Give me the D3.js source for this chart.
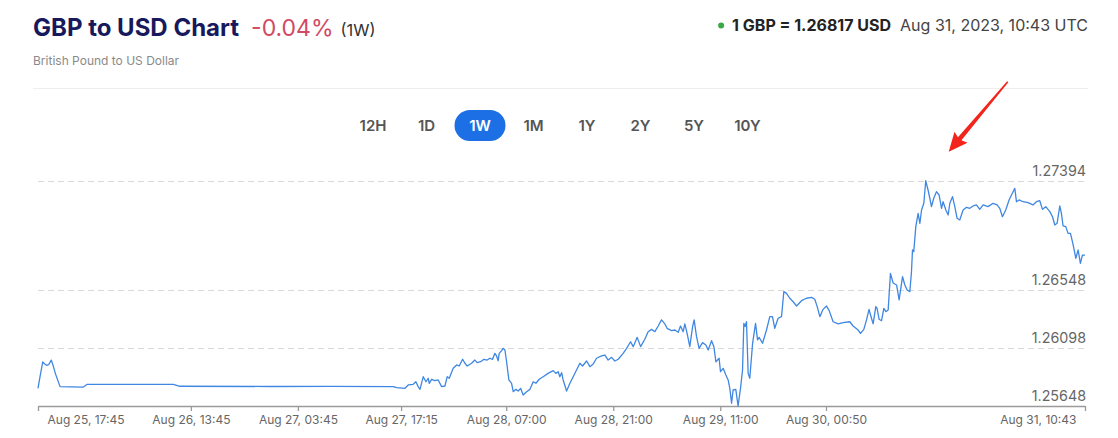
<!DOCTYPE html>
<html>
<head>
<meta charset="utf-8">
<script src="https://cdn.jsdelivr.net/npm/d3@7"></script>
<style>
  html, body { margin: 0; padding: 0; background: #fff; }
  svg { display: block; font-family: Inter, "Noto Sans", sans-serif; }
</style>
</head>
<body>
<svg id="chart" width="1118" height="438"></svg>
<script>
// ---------- data ----------
const titleText = "GBP to USD Chart";
const changeText = "-0.04%";
const periodText = "(1W)";
const subtitleText = "British Pound to US Dollar";
const quoteText = "1 GBP = 1.26817 USD";
const quoteTimeText = "Aug 31, 2023, 10:43 UTC";
const rangeButtons = ["12H", "1D", "1W", "1M", "1Y", "2Y", "5Y", "10Y"];
const activeButton = "1W";

const yTicks = [1.25648, 1.26098, 1.26548, 1.27394];
const xTickLabels = ["Aug 25, 17:45", "Aug 26, 13:45", "Aug 27, 03:45", "Aug 27, 17:15",
  "Aug 28, 07:00", "Aug 28, 21:00", "Aug 29, 11:00", "Aug 30, 00:50", "Aug 31, 10:43"];

const times = [
  "08-25 17:45","08-25 18:01","08-25 18:22","08-25 18:38","08-25 18:53","08-25 19:09","08-25 19:29","08-25 19:40","08-25 20:01","08-25 20:38","08-25 23:41",
  "08-26 00:12","08-26 11:27","08-26 12:19",
  "08-27 00:05","08-27 07:56","08-27 16:13","08-27 16:40","08-27 17:45","08-27 18:11","08-27 18:50","08-27 19:11","08-27 19:29","08-27 19:43","08-27 20:09","08-27 20:30","08-27 20:48","08-27 20:56","08-27 21:15","08-27 21:40","08-27 22:06","08-27 22:33","08-27 22:59","08-27 23:17","08-27 23:33",
  "08-28 00:04","08-28 00:31","08-28 00:51","08-28 01:18","08-28 01:36","08-28 01:54","08-28 02:28","08-28 02:54","08-28 03:12","08-28 03:39","08-28 04:05","08-28 04:31","08-28 04:52","08-28 05:13","08-28 05:31","08-28 05:44","08-28 05:57","08-28 06:05","08-28 06:24","08-28 06:36","08-28 06:50","08-28 07:03","08-28 07:21","08-28 07:42","08-28 07:55","08-28 08:16","08-28 08:34","08-28 08:53","08-28 09:13","08-28 09:40","08-28 10:06","08-28 10:32","08-28 10:53","08-28 11:19","08-28 11:50","08-28 12:29","08-28 13:09","08-28 13:30","08-28 13:48","08-28 14:01","08-28 14:15","08-28 14:27","08-28 14:54","08-28 15:20","08-28 15:46","08-28 16:12","08-28 16:38","08-28 16:59","08-28 17:31","08-28 17:57","08-28 18:23","08-28 18:49","08-28 19:29","08-28 19:55","08-28 20:20","08-28 20:47","08-28 21:13","08-28 21:39","08-28 22:18","08-28 22:45","08-28 23:16","08-28 23:37",
  "08-29 00:08","08-29 00:35","08-29 01:08","08-29 01:34","08-29 02:01","08-29 02:27","08-29 02:53","08-29 03:19","08-29 03:45","08-29 04:03","08-29 04:38","08-29 05:04","08-29 05:30","08-29 05:48","08-29 06:09","08-29 06:22","08-29 06:40","08-29 07:01","08-29 07:23","08-29 07:35","08-29 07:54","08-29 08:14","08-29 08:41","08-29 09:07","08-29 09:25","08-29 09:52","08-29 10:10","08-29 10:26","08-29 10:51","08-29 11:02","08-29 11:23","08-29 11:44","08-29 12:02","08-29 12:15","08-29 12:29","08-29 12:41","08-29 13:02","08-29 13:20","08-29 13:39","08-29 13:55","08-29 14:05","08-29 14:15","08-29 14:26","08-29 14:39","08-29 14:52","08-29 15:14","08-29 15:37","08-29 15:53","08-29 16:05","08-29 16:32","08-29 17:03","08-29 17:29","08-29 17:50","08-29 18:08","08-29 18:34","08-29 19:01","08-29 19:19","08-29 19:40","08-29 20:06","08-29 20:32","08-29 20:59","08-29 21:38","08-29 22:17","08-29 22:57","08-29 23:22","08-29 23:41",
  "08-30 00:02","08-30 00:27","08-30 00:54","08-30 01:15","08-30 01:46","08-30 02:25","08-30 03:04","08-30 03:57","08-30 04:23","08-30 05:02","08-30 05:21","08-30 05:47","08-30 06:08","08-30 06:28","08-30 06:47","08-30 07:00","08-30 07:21","08-30 07:31","08-30 07:47","08-30 08:06","08-30 08:24","08-30 08:40","08-30 08:58","08-30 09:16","08-30 09:37","08-30 10:04","08-30 10:24","08-30 10:51","08-30 11:09","08-30 11:27","08-30 11:48","08-30 12:01","08-30 12:09","08-30 12:19","08-30 12:35","08-30 12:53","08-30 13:07","08-30 13:20","08-30 13:38","08-30 13:53","08-30 14:11","08-30 14:25","08-30 14:38","08-30 14:56","08-30 15:17","08-30 15:38","08-30 15:57","08-30 16:09","08-30 16:31","08-30 16:49","08-30 17:02","08-30 17:23","08-30 17:41","08-30 17:59","08-30 18:20","08-30 18:46","08-30 19:13","08-30 19:39","08-30 20:05","08-30 20:31","08-30 20:57","08-30 21:23","08-30 22:02","08-30 22:41","08-30 23:13","08-30 23:34","08-30 23:55",
  "08-31 00:21","08-31 00:47","08-31 01:06","08-31 01:32","08-31 01:45","08-31 02:06","08-31 02:37","08-31 03:16","08-31 03:55","08-31 04:22","08-31 04:48","08-31 05:09","08-31 05:35","08-31 06:07","08-31 06:28","08-31 06:46","08-31 07:04","08-31 07:25","08-31 07:38","08-31 07:51","08-31 08:12","08-31 08:30","08-31 08:49","08-31 09:10","08-31 09:31","08-31 09:49","08-31 10:07","08-31 10:23","08-31 10:43"
];

const rates = [
  1.25785,1.25875,1.25989,1.25974,1.25963,1.25968,1.26004,1.25974,1.25901,1.25798,1.25795,
  1.25816,1.25816,1.25801,
  1.25799,1.25800,1.25798,1.25790,1.25785,1.25811,1.25816,1.25836,1.25798,1.25777,1.25875,1.25836,1.25863,1.25824,1.25855,1.25844,1.25850,1.25798,1.25803,1.25875,1.25863,
  1.25940,1.25966,1.25958,1.26010,1.25979,1.25958,1.25979,1.26004,1.25984,1.25991,1.26010,1.26004,1.26018,1.26010,1.26056,1.26036,1.25999,1.26056,1.26077,1.26095,1.26082,1.25991,1.25850,1.25824,1.25759,1.25777,1.25764,1.25785,1.25733,1.25759,1.25777,1.25836,1.25824,1.25855,1.25875,1.25901,1.25922,1.25901,1.25914,1.25875,1.25906,1.25850,1.25764,1.25824,1.25875,1.25927,1.25979,1.25958,1.25997,1.25953,1.25974,1.26018,1.26036,1.26043,1.26004,1.26025,1.25997,1.26010,1.26056,1.26095,1.26146,1.26108,
  1.26180,1.26108,1.26165,1.26224,1.26242,1.26224,1.26268,1.26315,1.26284,1.26250,1.26232,1.26237,1.26219,1.26268,1.26224,1.26284,1.26211,1.26108,1.26263,1.26315,1.26185,1.26095,1.26139,1.26121,1.26082,1.26154,1.26108,1.25991,1.26018,1.25914,1.25940,1.25888,1.25850,1.25785,1.25669,1.25772,1.25777,1.25648,1.25785,1.25927,1.26289,1.26263,1.26301,1.25901,1.25863,1.26134,1.26289,1.26160,1.26180,1.26134,1.26237,1.26340,1.26340,1.26250,1.26328,1.26340,1.26534,1.26521,1.26483,1.26456,1.26423,1.26464,1.26483,1.26490,1.26475,1.26418,
  1.26340,1.26397,1.26423,1.26387,1.26301,1.26284,1.26294,1.26301,1.26268,1.26237,1.26211,1.26242,1.26315,1.26397,1.26328,1.26284,1.26418,1.26405,1.26320,1.26309,1.26405,1.26379,1.26392,1.26676,1.26601,1.26586,1.26470,1.26650,1.26586,1.26547,1.26534,1.26687,1.26857,1.26844,1.27038,1.27141,1.27064,1.27167,1.27219,1.27394,1.27322,1.27258,1.27193,1.27258,1.27309,1.27283,1.27180,1.27231,1.27167,1.27128,1.27219,1.27270,1.27193,1.27103,1.27090,1.27167,1.27188,1.27180,1.27198,1.27206,1.27172,1.27206,1.27193,1.27219,1.27206,1.27180,1.27115,
  1.27167,1.27245,1.27283,1.27335,1.27231,1.27245,1.27231,1.27224,1.27206,1.27231,1.27239,1.27172,1.27193,1.27154,1.27115,1.27051,1.27064,1.27198,1.27141,1.27043,1.27038,1.26986,1.26986,1.26896,1.26793,1.26857,1.26754,1.26818,1.26817
];

// ---------- drawing ----------
const svg = d3.select("#chart");
svg.append("rect").attr("width", 1118).attr("height", 438).attr("fill", "#fff");

const parseT = d3.utcParse("%Y-%m-%d %H:%M");
const parseLabel = d3.utcParse("%Y %b %d, %H:%M");
const data = times.map((t, i) => ({ t: parseT("2023-" + t), v: rates[i] }));
const tickDates = xTickLabels.map(s => parseLabel("2023 " + s));

const x = d3.scaleUtc()
  .domain([tickDates[0], tickDates[tickDates.length - 1]])
  .range([38, 1085]);
const y = d3.scaleLinear()
  .domain([d3.min(yTicks), d3.max(yTicks)])
  .range([406, 180.7]);

// header
const title = svg.append("text").attr("x", 33).attr("y", 36)
  .attr("font-size", 24).attr("font-weight", 700).attr("fill", "#17195c").text(titleText);
const tW = title.node().getComputedTextLength();
const chg = svg.append("text").attr("x", 33 + tW + 12).attr("y", 36)
  .attr("font-size", 23).attr("font-weight", 400).attr("fill", "#d14a63").text(changeText);
const cW = chg.node().getComputedTextLength();
svg.append("text").attr("x", 33 + tW + 12 + cW + 7).attr("y", 36)
  .attr("font-size", 16.5).attr("fill", "#333").text(periodText);
svg.append("text").attr("x", 33).attr("y", 65)
  .attr("font-size", 12).attr("fill", "#8a8a8a").text(subtitleText);

const qt = svg.append("text").attr("x", 1088).attr("y", 31).attr("text-anchor", "end")
  .attr("font-size", 16).attr("fill", "#444").text(quoteTimeText);
const qtW = qt.node().getComputedTextLength();
const q = svg.append("text").attr("x", 1088 - qtW - 9).attr("y", 31).attr("text-anchor", "end")
  .attr("font-size", 16).attr("font-weight", 700).attr("fill", "#222").text(quoteText);
const qW = q.node().getComputedTextLength();
svg.append("circle").attr("cx", 1088 - qtW - 9 - qW - 11).attr("cy", 25.5).attr("r", 3)
  .attr("fill", "#3aa845");

// separator
svg.append("line").attr("x1", 33).attr("x2", 1088).attr("y1", 88.5).attr("y2", 88.5)
  .attr("stroke", "#eeeeee").attr("stroke-width", 1);

// range buttons
const bx = d3.scalePoint().domain(rangeButtons).range([373, 747.5]);
const btn = svg.append("g").selectAll("g").data(rangeButtons).join("g")
  .attr("transform", d => `translate(${bx(d)},125.5)`);
btn.filter(d => d === activeButton).append("rect")
  .attr("x", -25.5).attr("y", -15.5).attr("width", 51).attr("height", 31).attr("rx", 15.5)
  .attr("fill", "#1d6fe5");
btn.append("text").attr("text-anchor", "middle").attr("dy", "0.36em")
  .attr("font-size", 15).attr("font-weight", 600)
  .attr("fill", d => d === activeButton ? "#fff" : "#555").text(d => d);

// gridlines + y labels
const fmt = d3.format(".5f");
const grid = svg.append("g");
grid.selectAll("line").data(yTicks.slice(1)).join("line")
  .attr("x1", 38).attr("x2", 1086)
  .attr("y1", d => Math.round(y(d)) + 0.5).attr("y2", d => Math.round(y(d)) + 0.5)
  .attr("stroke", "#d9d9d9").attr("stroke-dasharray", "6,4");
grid.selectAll("text").data(yTicks).join("text")
  .attr("x", 1086).attr("y", d => y(d) - 5).attr("text-anchor", "end")
  .attr("font-size", 14.3).attr("fill", "#666").text(d => fmt(d));

// x axis
const xAxis = d3.axisBottom(x).tickValues(tickDates).tickSizeInner(5).tickSizeOuter(0)
  .tickFormat((d, i) => xTickLabels[i]);
const gx = svg.append("g").attr("transform", "translate(0,406)").call(xAxis);
gx.select(".domain").attr("stroke", "#9a9a9a").attr("stroke-width", 1.6);
gx.selectAll(".tick line").attr("stroke", "#9a9a9a").attr("stroke-width", 1.3);
gx.selectAll(".tick text").attr("font-family", "Inter, 'Noto Sans', sans-serif")
  .attr("font-size", 12).attr("fill", "#666").attr("y", 9).attr("dy", "0.71em");
gx.selectAll(".tick text").filter((d, i) => i === 0).attr("text-anchor", "start").attr("x", 9);
gx.selectAll(".tick text").filter((d, i) => i === xTickLabels.length - 1).attr("text-anchor", "end").attr("x", -9);

// line
const line = d3.line().x(d => x(d.t)).y(d => y(d.v));
svg.append("path").datum(data).attr("d", line)
  .attr("fill", "none").attr("stroke", "#3f87e2").attr("stroke-width", 1.3)
  .attr("stroke-linejoin", "round");

// red annotation arrow pointing at the peak
const peak = data.reduce((a, b) => (b.v > a.v ? b : a));
const px = x(peak.t), py = y(peak.v);
const tip = [px + 23, py - 29], tail = [px + 82, py - 99];
const dx = tip[0] - tail[0], dy = tip[1] - tail[1];
const len = Math.hypot(dx, dy);
const ux = dx / len, uy = dy / len, nx = -uy, ny = ux;
const headLen = 17, headW = 8.5;
const neck = [tip[0] - ux * headLen, tip[1] - uy * headLen];
const pts = [
  [tail[0] + nx * 0.8, tail[1] + ny * 0.8],
  [neck[0] + nx * 2.3, neck[1] + ny * 2.3],
  [neck[0] + nx * headW - ux * 2, neck[1] + ny * headW - uy * 2],
  tip,
  [neck[0] - nx * headW - ux * 2, neck[1] - ny * headW - uy * 2],
  [neck[0] - nx * 2.3, neck[1] - ny * 2.3],
  [tail[0] - nx * 0.8, tail[1] - ny * 0.8]
];
svg.append("path").attr("d", "M" + pts.map(p => p.join(",")).join("L") + "Z")
  .attr("fill", "#f2241c");
</script>
</body>
</html>
